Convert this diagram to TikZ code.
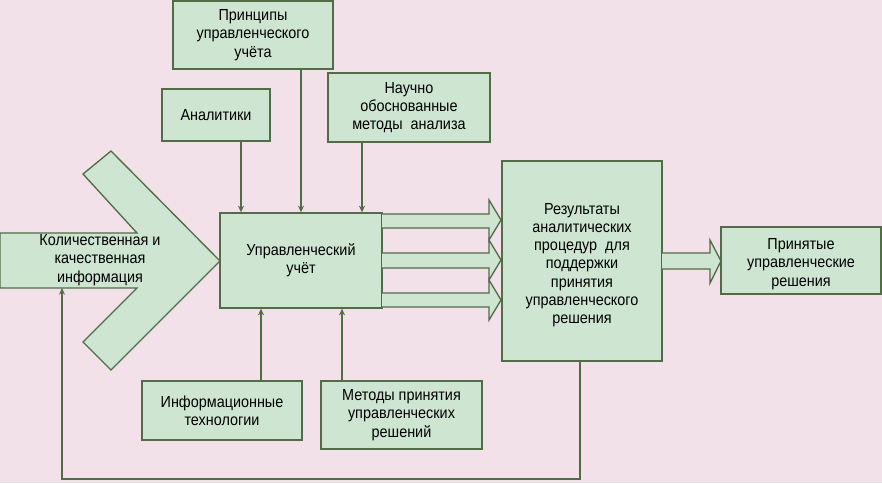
\documentclass[tikz,border=0pt]{standalone}
\usepackage{fontspec}
\setmainfont{Liberation Sans}[FakeStretch=0.9]
\usetikzlibrary{arrows.meta}
\definecolor{bgc}{RGB}{242,225,233}
\definecolor{boxfill}{RGB}{205,229,209}
\definecolor{boxline}{RGB}{82,108,72}
\tikzset{
  box/.style={draw=boxline, fill=boxfill, line width=1pt, inner sep=0pt, align=center,
    font=\fontsize{12}{13.7}\selectfont},
  conn/.style={draw=boxline, line width=1pt, -{Stealth[length=5pt,width=4.5pt]}},
  fat/.style={draw=boxline, fill=boxfill, line width=1pt, line join=miter},
  txt/.style={inner sep=0pt, align=center, font=\fontsize{12}{13.7}\selectfont},
}
\begin{document}
\begin{tikzpicture}[x=0.75pt,y=-0.75pt]
\fill[bgc] (0,0) rectangle (882,483);
\useasboundingbox (0,0) rectangle (882,483);

% chevron input
\draw[fat] (0,233) -- (137,233) -- (83,174) -- (111,151) -- (220,261) -- (111,370) -- (83,342) -- (137,288) -- (0,288) -- cycle;
\node[txt] (kol) at (100,260) {Количественная и\\качественная\\информация};
\coordinate (kolb) at (62,288);

% boxes
\node[box, minimum width=120pt, minimum height=51pt] (pr) at (253,35) {Принципы\\управленческого\\учёта};
\node[box, minimum width=81pt, minimum height=39pt] (an) at (216,115) {Аналитики};
\node[box, minimum width=121.5pt, minimum height=51.75pt] (nm) at (409,107.5) {Научно\\обоснованные\\методы\ \ анализа};
\node[box, minimum width=121.5pt, minimum height=71.25pt] (uu) at (301,260.5) {Управленческий\\учёт};
\node[box, minimum width=120pt, minimum height=150pt] (res) at (582,261) {};
\node[txt] (rest) at (582,265) {Результаты\\аналитических\\процедур\ \ для\\поддержки\\принятия\\управленческого\\решения};
\node[box, minimum width=120pt, minimum height=50.25pt] (pn) at (801,260.5) {};
\node[txt] (pnt) at (801,264) {Принятые\\управленческие\\решения};
\node[box, minimum width=120pt, minimum height=44.25pt] (it) at (222,410.5) {Информационные\\технологии};
\node[box, minimum width=120.75pt, minimum height=51pt] (mp) at (401.5,415) {Методы принятия\\управленческих\\решений};

% x positions of connectors
\coordinate (xa) at (241,0);
\coordinate (xp) at (301,0);
\coordinate (xn) at (362,0);
\coordinate (xi) at (261,0);
\coordinate (xm) at (342,0);
\coordinate (xr) at (580,0);
\coordinate (yb) at (0,479);

\draw[conn] (an.south -| xa) -- (uu.north -| xa);
\draw[conn] (pr.south -| xp) -- (uu.north -| xp);
\draw[conn] (nm.south -| xn) -- (uu.north -| xn);
\draw[conn] (it.north -| xi) -- (uu.south -| xi);
\draw[conn] (mp.north -| xm) -- (uu.south -| xm);
\draw[conn] (res.south -| xr) -- (xr |- yb) -- (kolb |- yb) -- (kolb);

% fat arrows from uu to res
\foreach \a/\b/\t in {214/228/220, 253/268/260, 293/307/300}{
  \draw[fat] (382,\a) -- (489,\a) -- (489,\t-20) -- (501,\t) -- (489,\t+20) -- (489,\b) -- (382,\b);
}
% fat arrow from res to pn
\draw[fat] (662,253) -- (710,253) -- (710,240) -- (721,261) -- (710,283) -- (710,269) -- (662,269);
\end{tikzpicture}
\end{document}
